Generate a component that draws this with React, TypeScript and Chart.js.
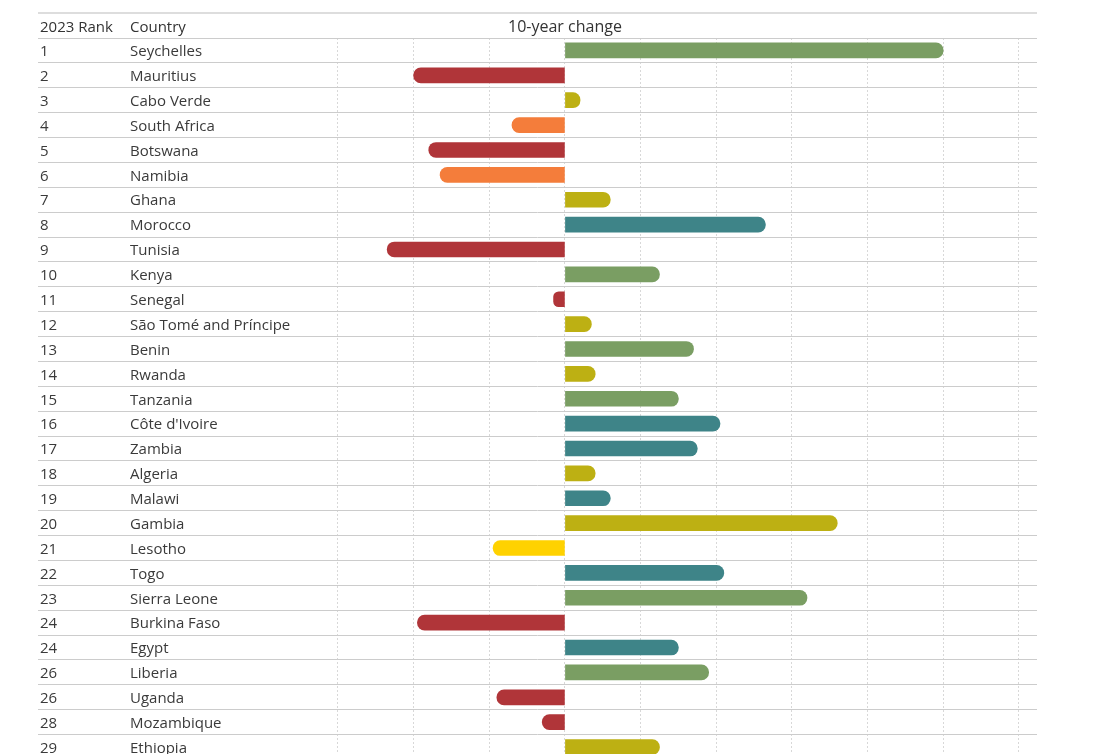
import React, { useEffect, useRef } from "react";
import { Chart, registerables } from "chart.js";

Chart.register(...registerables);

const ranks = ["1","2","3","4","5","6","7","8","9","10","11","12","13","14","15","16","17","18","19","20","21","22","23","24","24","26","26","28","29"];
const countries = ["Seychelles","Mauritius","Cabo Verde","South Africa","Botswana","Namibia","Ghana","Morocco","Tunisia","Kenya","Senegal","São Tomé and Príncipe","Benin","Rwanda","Tanzania","Côte d'Ivoire","Zambia","Algeria","Malawi","Gambia","Lesotho","Togo","Sierra Leone","Burkina Faso","Egypt","Liberia","Uganda","Mozambique","Ethiopia"];
const changes = [10.0,-4.0,0.4,-1.4,-3.6,-3.3,1.2,5.3,-4.7,2.5,-0.3,0.7,3.4,0.8,3.0,4.1,3.5,0.8,1.2,7.2,-1.9,4.2,6.4,-3.9,3.0,3.8,-1.8,-0.6,2.5];
const trends = ["green","red","olive","orange","red","orange","olive","teal","red","green","red","olive","green","olive","green","teal","teal","olive","teal","olive","yellow","teal","green","red","teal","green","red","red","olive"];
const gridTicks = [-6,-4,-2,0,2,4,6,8,10,12];

const trendColors: Record<string, string> = {
  green: "#7a9e63",
  red: "#b03539",
  olive: "#bdb013",
  orange: "#f47d3b",
  teal: "#3e8488",
  yellow: "#ffd200",
};

const FONT = "'Open Sans', sans-serif";

const tablePlugin = {
  id: "tableText",
  afterDraw(chart: any) {
    const { ctx, chartArea } = chart;
    const y = chart.scales.y;
    const x = chart.scales.x;
    ctx.save();
    // top rule
    ctx.strokeStyle = "#dddddd";
    ctx.lineWidth = 2;
    ctx.beginPath();
    ctx.moveTo(chartArea.left, 13);
    ctx.lineTo(chartArea.right, 13);
    ctx.stroke();
    ctx.fillStyle = "#333333";
    ctx.textBaseline = "middle";
    ctx.textAlign = "left";
    const headY = (13 + chartArea.top) / 2 + 2;
    ctx.font = `15px ${FONT}`;
    ctx.fillText("2023 Rank", 40, headY);
    ctx.fillText("Country", 130, headY);
    ctx.textAlign = "center";
    ctx.font = `16px ${FONT}`;
    ctx.fillText("10-year change", x.getPixelForValue(0), headY);
    ctx.textAlign = "left";
    ctx.font = `15px ${FONT}`;
    ctx.fillStyle = "#3a3a3a";
    countries.forEach((c, i) => {
      const py = y.getPixelForValue(i) + 1.5;
      ctx.fillText(ranks[i], 40, py);
      ctx.fillText(c, 130, py);
    });
    ctx.restore();
  },
};

export default function App() {
  const ref = useRef<HTMLCanvasElement | null>(null);
  useEffect(() => {
    if (!ref.current) return;
    const chart = new Chart(ref.current, {
      type: "bar",
      data: {
        labels: countries,
        datasets: [
          {
            data: changes,
            backgroundColor: trends.map((t) => trendColors[t]),
            barThickness: 15,
            borderRadius: 8,
            borderSkipped: "start",
          },
        ],
      },
      options: {
        indexAxis: "y",
        responsive: false,
        animation: false,
        events: [],
        layout: { padding: { left: 38, right: 59, top: 38, bottom: 0.5 } },
        plugins: { legend: { display: false }, tooltip: { enabled: false } },
        scales: {
          x: {
            type: "linear",
            min: -13.93,
            max: 12.48,
            afterBuildTicks: (scale: any) => {
              scale.ticks = gridTicks.map((v) => ({ value: v }));
            },
            ticks: { display: false },
            grid: { color: "#d8d8d8", lineWidth: 1, drawTicks: false },
            border: { display: false, dash: [2, 2] },
          },
          y: {
            type: "category",
            ticks: { display: false },
            grid: { color: "#cccccc", lineWidth: 1, offset: true, drawTicks: false },
            border: { display: false },
          },
        },
      },
      plugins: [tablePlugin],
    } as any);
    return () => chart.destroy();
  }, []);
  return (
    <div style={{ position: "fixed", left: 0, top: 0, width: 1096, height: 754, overflow: "hidden", background: "#fff" }}>
      <canvas ref={ref} width={1096} height={760} style={{ width: 1096, height: 760, display: "block" }} />
    </div>
  );
}
